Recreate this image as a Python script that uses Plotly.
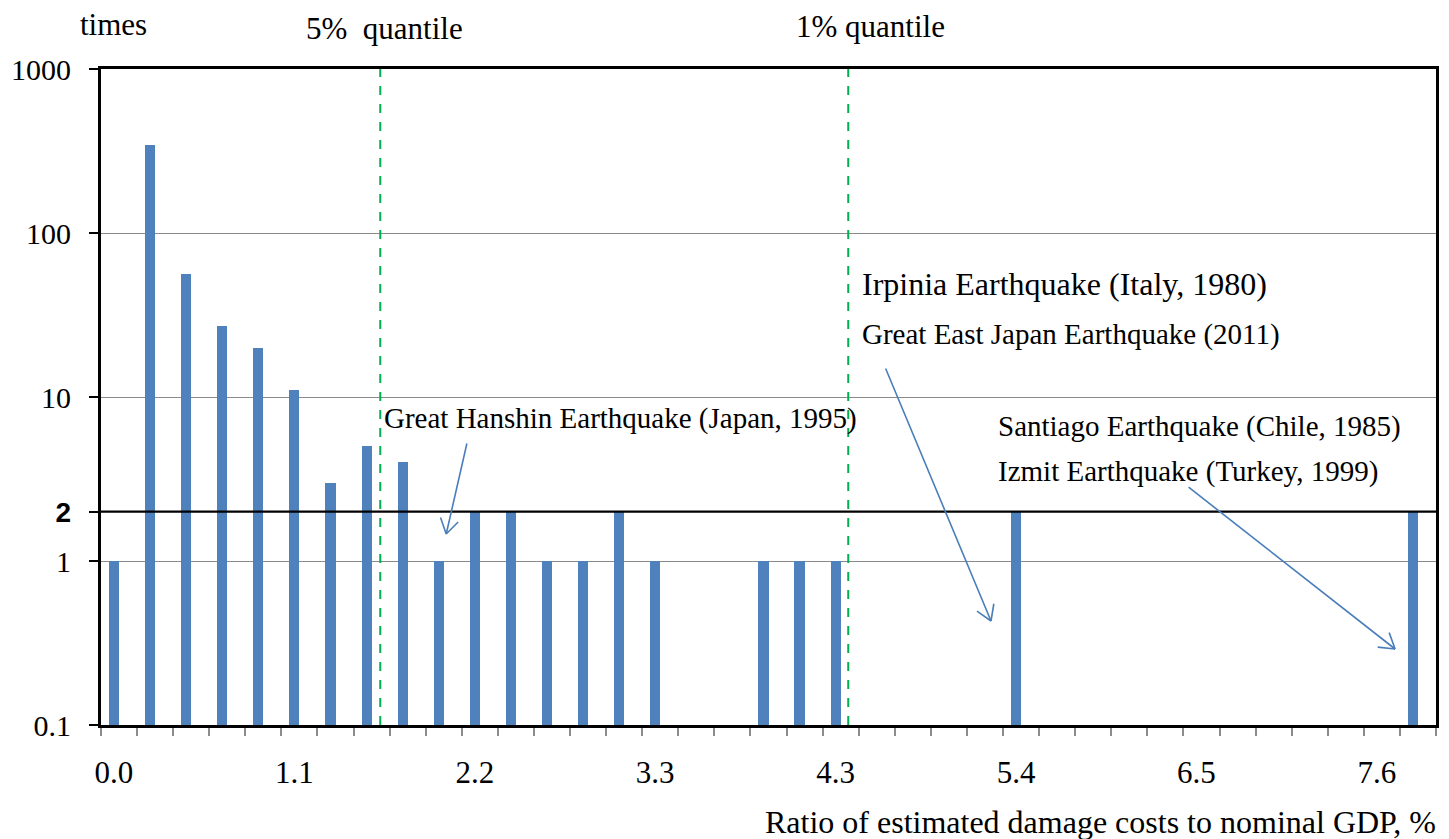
import math
import plotly.graph_objects as go

# ---- data ----
bin_index = list(range(37))
counts = [1, 345, 56, 27, 20, 11, 3, 5, 4, 1,
          2, 2, 1, 1, 2, 1, None, None, 1, 1,
          1, None, None, None, None, 2, None, None, None, None,
          None, None, None, None, None, None, 2]
label_bins = [0, 5, 10, 15, 20, 25, 30, 35]
label_text = ["0.0", "1.1", "2.2", "3.3", "4.3", "5.4", "6.5", "7.6"]
y_tickvals = [0.1, 1, 2, 10, 100, 1000]
y_ticktext = ["0.1", "1",
              '<span style="font-family:Liberation Sans;font-weight:bold;font-size:28px">2</span>',
              "10", "100", "1000"]
threshold = 2
quantile_pos = {"5%": 7.74, "1%": 20.71}

FONT = "Liberation Serif"
BAR = "#4f81bd"
ARROW = "#4a7ebb"

fig = go.Figure()
fig.add_trace(go.Bar(x=bin_index, y=counts, marker=dict(color=BAR, line=dict(width=0)),
                     width=0.28, offset=0.22, showlegend=False, hoverinfo="y"))
fig.add_trace(go.Scatter(x=[0, len(bin_index)], y=[threshold, threshold], mode="lines",
                         line=dict(color="black", width=2.4), showlegend=False, hoverinfo="skip"))

for q in quantile_pos.values():
    fig.add_shape(type="line", xref="x", yref="paper", x0=q, x1=q, y0=0, y1=1,
                  line=dict(color="#00b050", width=2, dash="dash"))

W, H = 1449, 839
L, R, T, B = 101, 10, 69, 114
pw, ph = W - L - R, H - T - B

def px(x):
    return (x - L) / pw

def py(y):
    return (H - B - y) / ph

def text(s, x, y, size=29, xanchor="left"):
    fig.add_annotation(text=s, x=px(x), y=py(y), xref="paper", yref="paper",
                       xanchor=xanchor, yanchor="middle", showarrow=False,
                       font=dict(family=FONT, size=size, color="black"))

def seg(x0, y0, x1, y1):
    fig.add_annotation(x=px(x1), y=py(y1), xref="paper", yref="paper",
                       ax=x0 - x1, ay=y0 - y1, axref="pixel", ayref="pixel",
                       text="", showarrow=True, arrowhead=0,
                       arrowwidth=1.6, arrowcolor=ARROW, standoff=0)

def arrow(x0, y0, x1, y1, head=19, half_angle=32):
    seg(x0, y0, x1, y1)
    ang = math.atan2(y0 - y1, x0 - x1)
    for s in (-1, 1):
        a = ang + s * math.radians(half_angle)
        seg(x1 + head * math.cos(a), y1 + head * math.sin(a), x1, y1)

text("times", 114, 24, size=31, xanchor="center")
text("5%  quantile", 385, 28, size=31, xanchor="center")
text("1% quantile", 872, 26, size=31, xanchor="center")
text("Great Hanshin Earthquake (Japan, 1995)", 383, 418)
text("Irpinia Earthquake (Italy, 1980)", 862, 284, size=32)
text("Great East Japan Earthquake (2011)", 862, 334)
text("Santiago Earthquake (Chile, 1985)", 998, 426)
text("Izmit Earthquake (Turkey, 1999)", 998, 471)
text("Ratio of estimated damage costs to nominal GDP, %", 1441, 822, size=32, xanchor="right")

arrow(468, 442, 447, 534)
arrow(887, 367, 993, 621)
arrow(1190, 486, 1398, 649)

TICKFONT = dict(family=FONT, size=30, color="black")

fig.update_layout(
    width=W, height=H,
    margin=dict(l=L, r=R, t=T, b=B, pad=0),
    paper_bgcolor="white", plot_bgcolor="white",
    font=dict(family=FONT, size=31, color="black"),
    bargap=0,
    xaxis=dict(range=[0, len(bin_index)], tickmode="array",
               tickvals=[i + 0.36 for i in label_bins], ticktext=label_text,
               tickfont=dict(family=FONT, size=31, color="black"),
               ticks="", showgrid=False, zeroline=False,
               showline=True, linecolor="black", linewidth=2.5, mirror=True,
               ticklabelstandoff=18,
               minor=dict(tickmode="array", tickvals=list(range(len(bin_index) + 1)),
                          ticks="outside", ticklen=8, tickcolor="#8c8c8c", tickwidth=1.5,
                          showgrid=False)),
    yaxis=dict(type="log", range=[-1, 3], tickmode="array",
               tickvals=y_tickvals, ticktext=y_ticktext,
               tickfont=TICKFONT,
               ticks="outside", ticklen=9, tickcolor="black", tickwidth=1.5,
               showgrid=True, gridcolor="#8a8a8a", gridwidth=1.3,
               zeroline=False, showline=True, linecolor="black", linewidth=2.8, mirror=True,
               ticklabelstandoff=12),
)

fig.write_html("out.html")
